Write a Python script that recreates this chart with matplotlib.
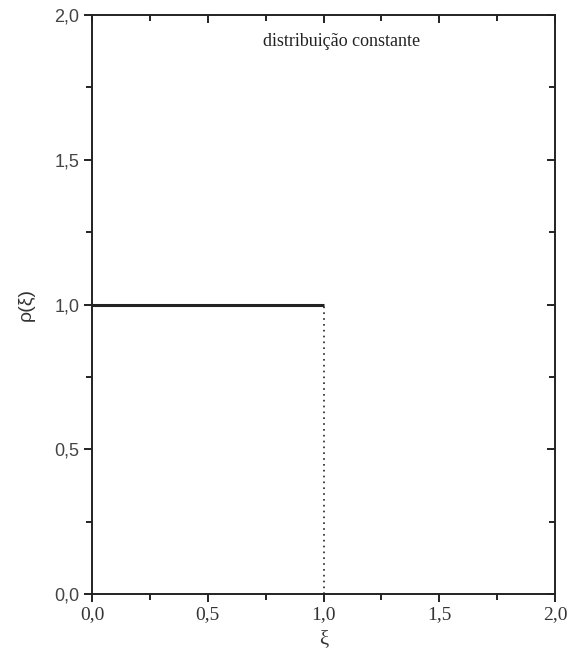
import matplotlib
matplotlib.use("Agg")
import matplotlib.pyplot as plt
from matplotlib.ticker import MultipleLocator, FuncFormatter

# data
xi_solid = [0.0, 1.0]
rho_solid = [1.0, 1.0]
xi_dot = [1.0, 1.0]
rho_dot = [0.0, 1.0]
x_ticks = [0.0, 0.5, 1.0, 1.5, 2.0]
y_ticks = [0.0, 0.5, 1.0, 1.5, 2.0]
annotation = "distribuição constante"

fig = plt.figure(figsize=(5.67, 6.62), dpi=100)
W, H = 567, 662
left, right, top, bottom = 92, 555, 15, 594
ax = fig.add_axes([left / W, 1 - bottom / H, (right - left) / W, (bottom - top) / H])

ax.plot(xi_solid, rho_solid, color="#222222", lw=2.2, solid_capstyle="butt")
ax.plot(xi_dot, rho_dot, color="#222222", lw=1.2, linestyle=(0, (1, 2.5)))

ax.set_xlim(0, 2)
ax.set_ylim(0, 2)
ax.set_xticks(x_ticks)
ax.set_yticks(y_ticks)
ax.xaxis.set_minor_locator(MultipleLocator(0.25))
ax.yaxis.set_minor_locator(MultipleLocator(0.25))
fmt = FuncFormatter(lambda v, p: f"{v:.1f}".replace(".", ","))
ax.xaxis.set_major_formatter(fmt)
ax.yaxis.set_major_formatter(fmt)

for s in ax.spines.values():
    s.set_linewidth(1.4)
    s.set_color("#222222")

ax.tick_params(which="both", direction="out", bottom=True, left=True, top=False, right=False,
               width=1.4, color="#222222")
ax.tick_params(which="major", length=6)
ax.tick_params(which="minor", length=4)
ax.tick_params(axis="x", pad=3, labelsize=14, labelcolor="#333333", labelfontfamily="Liberation Serif")
ax.tick_params(axis="y", pad=3, labelsize=13, labelcolor="#444444", labelfontfamily="Liberation Sans")

# mirrored inward ticks on top and right
axt = ax.secondary_xaxis("top")
axt.set_xticks(x_ticks)
axt.xaxis.set_minor_locator(MultipleLocator(0.25))
axt.tick_params(which="both", direction="in", labeltop=False, width=1.4, color="#222222")
axt.tick_params(which="major", length=6)
axt.tick_params(which="minor", length=4)
axt.spines["top"].set_visible(False)
axr = ax.secondary_yaxis("right")
axr.set_yticks(y_ticks)
axr.yaxis.set_minor_locator(MultipleLocator(0.25))
axr.tick_params(which="both", direction="in", labelright=False, width=1.4, color="#222222")
axr.tick_params(which="major", length=6)
axr.tick_params(which="minor", length=4)
axr.spines["right"].set_visible(False)

ax.set_xlabel("ξ", fontfamily="Liberation Serif", fontsize=15, color="#333333", labelpad=5)
ax.set_ylabel("ρ(ξ)", fontfamily="Liberation Sans", fontsize=14, color="#333333", labelpad=14)

ax.text(1.08, 1.91, annotation, ha="center", va="center",
        fontfamily="Liberation Serif", fontsize=13, color="#222222")

fig.savefig("out.png", dpi=100)
